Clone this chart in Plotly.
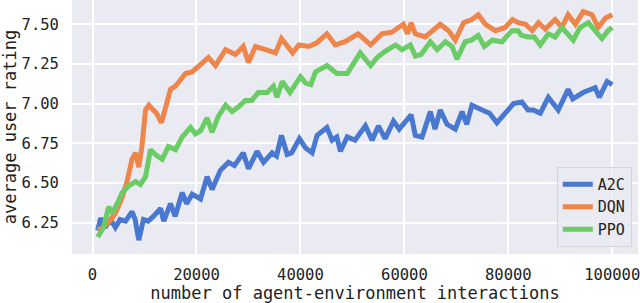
import plotly.graph_objects as go

# ---- data ----
a2c_x = [1000, 1550, 2400, 3460, 4400, 5300, 6350, 7600, 8200, 8900, 9800, 10700, 11700, 13100, 13700,
         15000, 15900, 17250, 18100, 19170, 20770, 22050, 23000, 24600, 26150, 27300, 29000, 30000,
         31650, 32900, 34550, 35400, 36350, 37450, 38300, 39800, 41000, 42250, 43200, 45100, 46100,
         47000, 47700, 49000, 50500, 52500, 53800, 55000, 56300, 57900, 59000, 60200, 61300, 62100,
         63400, 65000, 65900, 66900, 68200, 69800, 71100, 72000, 73000, 74950, 76400, 77800, 79400,
         81000, 82600, 83800, 84800, 86150, 87700, 88600, 89600, 91500, 92400, 94400, 95700, 96700,
         97500, 99000, 100000]
a2c_y = [6.20, 6.28, 6.22, 6.27, 6.22, 6.27, 6.26, 6.32, 6.27, 6.14, 6.27, 6.26, 6.29, 6.34, 6.26,
         6.37, 6.29, 6.44, 6.37, 6.43, 6.40, 6.54, 6.46, 6.58, 6.63, 6.61, 6.69, 6.59,
         6.70, 6.63, 6.69, 6.67, 6.80, 6.68, 6.69, 6.78, 6.72, 6.69, 6.80, 6.85, 6.77,
         6.79, 6.70, 6.79, 6.77, 6.86, 6.77, 6.86, 6.78, 6.89, 6.84, 6.89, 6.93, 6.80,
         6.79, 6.95, 6.84, 6.96, 6.87, 6.84, 6.95, 6.87, 6.99, 6.96, 6.94, 6.88, 6.94,
         7.00, 7.01, 6.96, 6.96, 6.94, 7.04, 7.00, 6.96, 7.09, 7.03, 7.07, 7.09, 7.10,
         7.04, 7.14, 7.12]

dqn_x = [1000, 2100, 3300, 4400, 5700, 6650, 7600, 8270, 8900, 9500, 10200, 10830, 11700, 12300,
         13270, 14000, 15000, 15960, 16900, 17900, 19170, 20100, 21100, 22300, 23650, 25600, 27500,
         29000, 30000, 31350, 33300, 35200, 36350, 37500, 38500, 39700, 41600, 43000, 45100, 46700,
         48600, 51100, 53500, 55700, 57600, 59800, 60600, 61300, 62100, 64000, 66900, 68500, 69800,
         71400, 73000, 74200, 75600, 77500, 79400, 80800, 81900, 83300, 84600, 85800, 87100, 89000,
         90300, 91500, 92900, 94400, 96100, 97300, 98700, 100000]
dqn_y = [6.205, 6.22, 6.26, 6.31, 6.41, 6.51, 6.65, 6.69, 6.60, 6.73, 6.96, 6.99, 6.96, 6.94,
         6.88, 6.98, 7.09, 7.11, 7.15, 7.19, 7.20, 7.23, 7.26, 7.29, 7.24, 7.34, 7.31,
         7.36, 7.26, 7.36, 7.34, 7.32, 7.41, 7.36, 7.32, 7.37, 7.36, 7.38, 7.44, 7.37,
         7.39, 7.44, 7.37, 7.44, 7.45, 7.50, 7.44, 7.51, 7.44, 7.42, 7.50, 7.46, 7.40,
         7.51, 7.53, 7.56, 7.50, 7.46, 7.48, 7.53, 7.51, 7.50, 7.46, 7.51, 7.47, 7.53,
         7.48, 7.56, 7.50, 7.58, 7.56, 7.48, 7.54, 7.56]

ppo_x = [1000, 2100, 3100, 3800, 4750, 5700, 6900, 8270, 9200, 10200, 11150, 12100, 13400, 14600,
         15960, 17250, 18850, 19800, 20800, 22050, 23000, 24200, 25600, 26850, 28100, 29400, 30600,
         31900, 33600, 34800, 35500, 36500, 38000, 39000, 40000, 41000, 42000, 42900, 45100, 47000,
         49000, 51500, 53500, 54750, 56300, 58300, 59550, 61150, 62100, 63200, 65000, 66300, 67900,
         69200, 70100, 71700, 72900, 74200, 75400, 76900, 78800, 80700, 81900, 82500, 83800, 85000,
         86150, 87700, 89000, 90300, 92500, 93800, 95400, 96700, 98000, 99200, 100000]
ppo_y = [6.16, 6.22, 6.35, 6.31, 6.37, 6.44, 6.48, 6.51, 6.49, 6.54, 6.71, 6.68, 6.65, 6.73,
         6.71, 6.79, 6.85, 6.81, 6.83, 6.91, 6.82, 6.92, 6.99, 6.95, 6.98, 7.02, 7.02,
         7.07, 7.07, 7.11, 7.04, 7.14, 7.07, 7.12, 7.17, 7.13, 7.12, 7.20, 7.24, 7.19,
         7.19, 7.32, 7.24, 7.29, 7.33, 7.37, 7.34, 7.37, 7.30, 7.31, 7.39, 7.34, 7.39,
         7.36, 7.28, 7.39, 7.40, 7.43, 7.36, 7.40, 7.39, 7.46, 7.46, 7.43, 7.42, 7.42,
         7.37, 7.44, 7.42, 7.48, 7.40, 7.48, 7.51, 7.46, 7.41, 7.46, 7.48]

series_names = ["A2C", "DQN", "PPO"]
series_colors = ["#4878D0", "#EE854A", "#6ACC64"]

x_tick_vals = [0, 20000, 40000, 60000, 80000, 100000]
x_tick_text = ["0", "20000", "40000", "60000", "80000", "100000"]
y_tick_vals = [6.25, 6.50, 6.75, 7.00, 7.25, 7.50]
y_tick_text = ["6.25", "6.50", "6.75", "7.00", "7.25", "7.50"]

FONT = "DejaVu Sans Mono"

fig = go.Figure()
for name, color, xs, ys in zip(series_names, series_colors,
                               [a2c_x, dqn_x, ppo_x], [a2c_y, dqn_y, ppo_y]):
    fig.add_trace(go.Scatter(x=xs, y=ys, mode="lines", name=name,
                             line=dict(color=color, width=5)))

fig.update_layout(
    width=640, height=303,
    margin=dict(l=72, r=2, t=0, b=49),
    paper_bgcolor="white",
    plot_bgcolor="#EAEAF2",
    font=dict(family=FONT, size=15.5, color="#222222"),
    showlegend=True,
    legend=dict(x=0.989, y=0.028, xanchor="right", yanchor="bottom",
                bgcolor="rgba(234,234,242,0.85)", bordercolor="#d4d4da", borderwidth=1,
                itemwidth=30, tracegroupgap=0,
                font=dict(family=FONT, size=15, color="#222222")),
)
fig.update_xaxes(
    range=[-3950, 104950], tickvals=x_tick_vals, ticktext=x_tick_text,
    showgrid=True, gridcolor="white", gridwidth=1.5, zeroline=False,
    ticks="outside", ticklen=6, tickcolor="rgba(0,0,0,0)", automargin=False,
    ticklabeloverflow="allow",
    tickfont=dict(family=FONT, size=15.5, color="#222222"),
    title=dict(text="number of agent-environment interactions",
               font=dict(family=FONT, size=17, color="#222222"), standoff=2),
)
fig.update_yaxes(
    range=[6.053, 7.653], tickvals=y_tick_vals, ticktext=y_tick_text,
    showgrid=True, gridcolor="white", gridwidth=1.5, zeroline=False,
    ticks="outside", ticklen=9, tickcolor="rgba(0,0,0,0)", automargin=False,
    tickfont=dict(family=FONT, size=15.5, color="#222222"),
    title=dict(text="average user rating",
               font=dict(family=FONT, size=17, color="#222222"), standoff=2),
)

fig.write_html("out.html", config={"displayModeBar": False},
               post_script="document.body.style.margin='0';")
